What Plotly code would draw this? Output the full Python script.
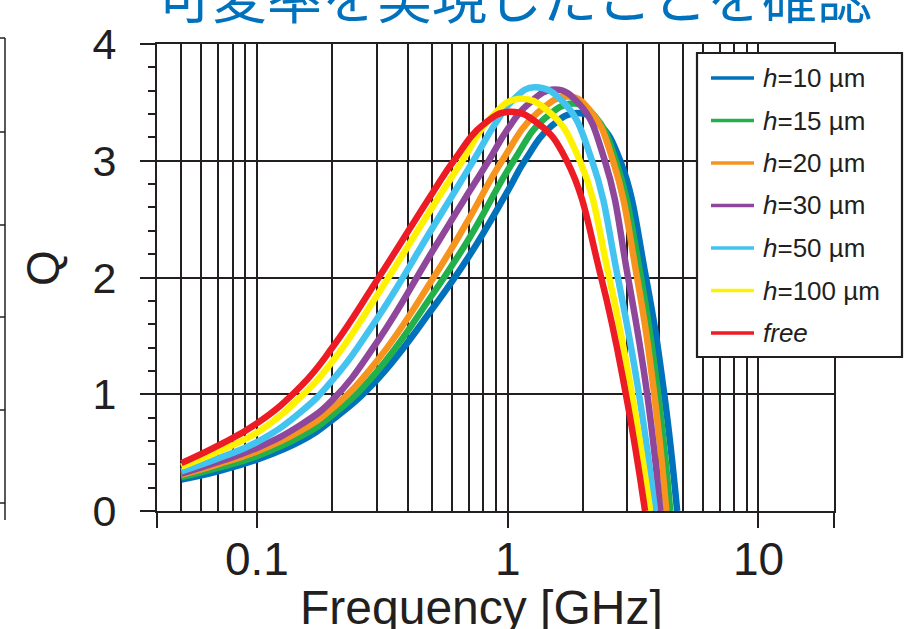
import math
import plotly.graph_objects as go

# Q factor versus frequency for several substrate gaps h (and free-standing)
SERIES_NAMES = ["h=10 µm", "h=15 µm", "h=20 µm", "h=30 µm", "h=50 µm", "h=100 µm", "free"]
LEGEND_TEXT = ["<i>h</i>=10 µm", "<i>h</i>=15 µm", "<i>h</i>=20 µm", "<i>h</i>=30 µm",
               "<i>h</i>=50 µm", "<i>h</i>=100 µm", "<i>free</i>"]
COLORS = ["#0072BC", "#22B04B", "#F7941D", "#8E479B", "#43C3F0", "#FFF200", "#ED1C24"]

F_H10 = [0.05, 0.07, 0.1, 0.15, 0.2, 0.3, 0.5, 0.7, 1.0, 1.17, 1.5, 1.9, 2.3, 2.81, 3.56, 4.21, 4.74]
Q_H10 = [0.27, 0.34, 0.44, 0.60, 0.78, 1.12, 1.73, 2.18, 2.74, 3.0, 3.30, 3.41, 3.32, 3.0, 2.0, 1.0, 0.0]

F_H15 = [0.05, 0.07, 0.1, 0.15, 0.2, 0.3, 0.5, 0.7, 1.05, 1.4, 1.85, 2.23, 2.70, 3.40, 3.98, 4.45]
Q_H15 = [0.29, 0.37, 0.47, 0.64, 0.82, 1.19, 1.85, 2.33, 2.99, 3.36, 3.49, 3.38, 3.0, 2.0, 1.0, 0.0]

F_H20 = [0.05, 0.07, 0.1, 0.15, 0.2, 0.3, 0.5, 0.7, 0.95, 1.3, 1.75, 2.15, 2.63, 3.28, 3.84, 4.29]
Q_H20 = [0.31, 0.40, 0.51, 0.69, 0.88, 1.28, 1.98, 2.50, 3.0, 3.40, 3.55, 3.42, 3.0, 2.0, 1.0, 0.0]

F_H30 = [0.05, 0.07, 0.1, 0.15, 0.2, 0.3, 0.5, 0.7, 0.84, 1.0, 1.2, 1.54, 1.94, 2.44, 3.02, 3.60, 4.06]
Q_H30 = [0.32, 0.42, 0.54, 0.74, 0.95, 1.44, 2.22, 2.73, 3.0, 3.27, 3.48, 3.61, 3.48, 3.0, 2.0, 1.0, 0.0]

F_H50 = [0.05, 0.07, 0.1, 0.15, 0.2, 0.3, 0.5, 0.73, 0.9, 1.05, 1.28, 1.67, 2.17, 2.75, 3.34, 3.87]
Q_H50 = [0.34, 0.45, 0.59, 0.85, 1.12, 1.64, 2.42, 3.0, 3.33, 3.52, 3.63, 3.50, 3.0, 2.0, 1.0, 0.0]

F_H100 = [0.05, 0.07, 0.1, 0.15, 0.2, 0.3, 0.5, 0.66, 0.85, 1.1, 1.46, 1.94, 2.54, 3.13, 3.70]
Q_H100 = [0.38, 0.51, 0.67, 0.98, 1.28, 1.84, 2.60, 3.0, 3.36, 3.53, 3.42, 3.0, 2.0, 1.0, 0.0]

F_FREE = [0.05, 0.07, 0.1, 0.15, 0.2, 0.3, 0.5, 0.61, 0.8, 1.02, 1.32, 1.72, 2.36, 2.96, 3.53]
Q_FREE = [0.41, 0.56, 0.75, 1.07, 1.40, 1.97, 2.72, 3.0, 3.31, 3.42, 3.32, 3.0, 2.0, 1.0, 0.0]

FREQS = [F_H10, F_H15, F_H20, F_H30, F_H50, F_H100, F_FREE]
QS = [Q_H10, Q_H15, Q_H20, Q_H30, Q_H50, Q_H100, Q_FREE]

X_TICKS = [0.04, 0.1, 1, 10, 20]
X_TICK_TEXT = ["", "0.1", "1", "10", ""]
X_MINOR = [m * d for d in (0.01, 0.1, 1) for m in range(2, 10) if 0.04 < m * d < 20]
Y_TICKS = [0, 1, 2, 3, 4]

INK = "#231F20"
FONT = "Liberation Sans, Arial, Helvetica, sans-serif"
GRID_W = 1.8

fig = go.Figure()
for name, f, q, c in zip(SERIES_NAMES, FREQS, QS, COLORS):
    fig.add_trace(go.Scatter(x=f, y=q, mode="lines", name=name, showlegend=False,
                             line=dict(color=c, width=6.5, shape="spline", smoothing=1.3)))

W, H = 914, 629
ML, MR, MT, MB = 157, 80, 44, 118
PW, PH = W - ML - MR, H - MT - MB


def px(xp):
    return (xp - ML) / PW


def py(yp):
    return (H - MB - yp) / PH


shapes = []
annotations = []

# legend box with sample lines and labels
shapes.append(dict(type="rect", xref="paper", yref="paper", x0=px(697), x1=px(902),
                   y0=py(357), y1=py(53), fillcolor="white", line=dict(color=INK, width=2.2)))
for i, (lbl, c) in enumerate(zip(LEGEND_TEXT, COLORS)):
    yc = 78 + 42.5 * i
    shapes.append(dict(type="line", xref="paper", yref="paper", x0=px(711), x1=px(754),
                       y0=py(yc), y1=py(yc), line=dict(color=c, width=3.5)))
    annotations.append(dict(xref="paper", yref="paper", x=px(761), y=py(yc), text=lbl,
                            xanchor="left", yanchor="middle", showarrow=False,
                            font=dict(family=FONT, size=26, color=INK)))

# edge of the neighbouring panel on the left
shapes.append(dict(type="line", xref="paper", yref="paper", x0=px(5), x1=px(5),
                   y0=py(38), y1=py(520), line=dict(color=INK, width=1.5)))
for yt in (38, 132, 225, 317, 410, 503):
    shapes.append(dict(type="line", xref="paper", yref="paper", x0=px(-1), x1=px(5),
                       y0=py(yt), y1=py(yt), line=dict(color=INK, width=1.5)))

# frequency tick labels, placed at their log positions
for v, t in zip(X_TICKS, X_TICK_TEXT):
    if t:
        annotations.append(dict(xref="x", yref="paper", x=math.log10(v), y=py(559), text=t,
                                xanchor="center", yanchor="middle", showarrow=False,
                                font=dict(family=FONT, size=46, color=INK)))

# axis titles
annotations.append(dict(xref="paper", yref="paper", x=px(481), y=py(607), text="Frequency [GHz]",
                        xanchor="center", yanchor="middle", showarrow=False,
                        font=dict(family=FONT, size=48, color=INK)))
annotations.append(dict(xref="paper", yref="paper", x=px(43), y=py(268), text="Q",
                        xanchor="center", yanchor="middle", showarrow=False, textangle=-90,
                        font=dict(family=FONT, size=46, color=INK)))
# heading line above the chart
annotations.append(dict(xref="paper", yref="paper", x=px(514), y=py(-6),
                        text="可変率を実現したことを確認", xanchor="center", yanchor="middle",
                        showarrow=False,
                        font=dict(family="Noto Sans CJK JP", size=55, color="#0071BC")))

fig.update_layout(
    width=W, height=H,
    margin=dict(l=ML, r=MR, t=MT, b=MB, pad=0),
    paper_bgcolor="white", plot_bgcolor="white",
    showlegend=False,
    shapes=shapes, annotations=annotations,
    font=dict(family=FONT, color=INK),
)
fig.update_xaxes(
    type="log", range=[math.log10(0.04), math.log10(20)],
    tickmode="array", tickvals=X_TICKS, ticktext=[""] * len(X_TICKS),
    ticks="outside", ticklen=15, tickwidth=GRID_W, tickcolor=INK,
    showgrid=True, gridcolor=INK, gridwidth=GRID_W,
    showline=True, linecolor=INK, linewidth=GRID_W, mirror=True, zeroline=False,
    minor=dict(tickmode="array", tickvals=X_MINOR, ticks="", showgrid=True,
               gridcolor=INK, gridwidth=GRID_W),
)
fig.update_yaxes(
    range=[0, 4], tickmode="array", tickvals=Y_TICKS,
    ticks="outside", ticklen=15, tickwidth=GRID_W, tickcolor=INK,
    tickfont=dict(family=FONT, size=43, color=INK), ticklabelstandoff=15,
    showgrid=True, gridcolor=INK, gridwidth=GRID_W,
    showline=True, linecolor=INK, linewidth=GRID_W, mirror=True, zeroline=False,
    minor=dict(dtick=0.2, ticks="outside", ticklen=7, tickwidth=GRID_W, tickcolor=INK,
               showgrid=False),
)

fig.write_html("out.html")
